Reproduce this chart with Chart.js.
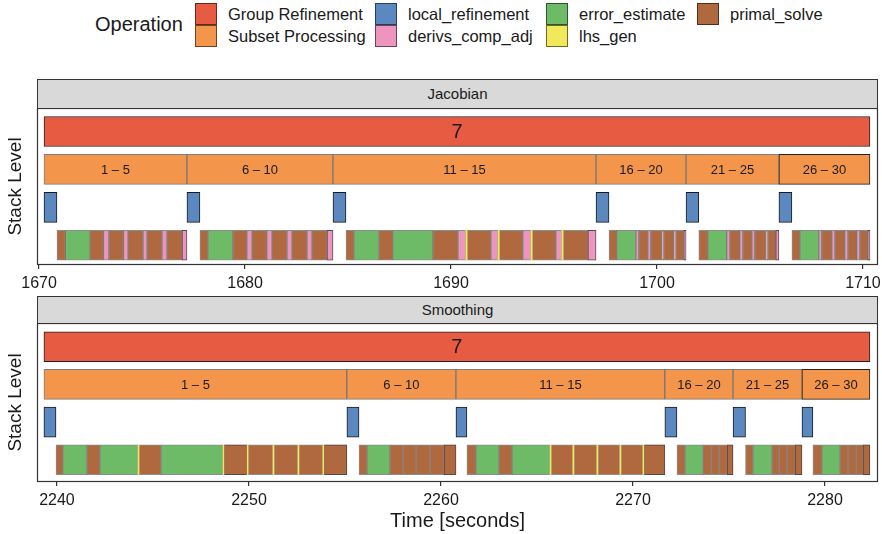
<!DOCTYPE html>
<html><head><meta charset="utf-8">
<script src="https://cdn.jsdelivr.net/npm/chart.js@4.4.1/dist/chart.umd.min.js"></script>
<style>
html,body{margin:0;padding:0;background:#fff}
body{width:882px;height:534px;position:relative;overflow:hidden;font-family:"Liberation Sans",Arial,Helvetica,sans-serif;color:#1a1a1a}
.legend-title{position:absolute;left:95px;top:12px;font-size:20px;line-height:24px}
.key{position:absolute;width:22px;height:22px;box-sizing:border-box;border:1px solid rgba(0,0,0,0.55)}
.klab{position:absolute;font-size:16.5px;line-height:22px;white-space:nowrap}
.strip{position:absolute;left:37px;width:841px;box-sizing:border-box;background:#d9d9d9;border:1px solid #333;text-align:center;font-size:15px}
.wrap{position:absolute;left:0;width:882px}
canvas{display:block}
</style></head><body>
<div id="legend"></div>
<div class="strip" style="top:79px;height:30px;line-height:28px">Jacobian</div>
<div class="wrap" style="top:108px;height:190px"><canvas id="c1" width="882" height="190"></canvas></div>
<div class="strip" style="top:296px;height:28px;line-height:26px">Smoothing</div>
<div class="wrap" style="top:323px;height:211px"><canvas id="c2" width="882" height="211"></canvas></div>
<script>
// ---------- data ----------
const P='primal_solve', E='error_estimate', D='derivs_comp_adj', L='lhs_gen';
const operations=['Group Refinement','Subset Processing','local_refinement','derivs_comp_adj','error_estimate','lhs_gen','primal_solve'];
const groupLabels=['7'];
const subsetLabels=['1 – 5','6 – 10','11 – 15','16 – 20','21 – 25','26 – 30'];

// Jacobian panel
const jacTicks=[1670,1680,1690,1700,1710];
const jacGroupStart=[1670.24];
const jacGroupEnd=[1710.34];
const jacSubsetStart=[1670.24,1677.18,1684.27,1697.04,1701.41,1705.92];
const jacSubsetEnd=[1677.18,1684.27,1697.04,1701.41,1705.92,1710.34];
const jacLocalStart=[1670.24,1677.18,1684.27,1697.04,1701.41,1705.92];
const jacLocalEnd=[1670.87,1677.81,1684.90,1697.67,1702.03,1706.55];
const jacOpStart=[
 1670.87,1671.28,1672.47,1673.13,1673.39,1674.10,1674.32,1675.05,1675.24,1675.97,1676.21,1676.94,1676.94,
 1677.81,1678.20,1679.41,1680.09,1680.34,1681.06,1681.31,1682.04,1682.28,1683.01,1683.25,1683.98,1683.98,
 1684.90,1685.29,1686.50,1687.18,1689.12,1690.34,1690.72,1690.78,1691.94,1692.28,1692.34,1693.49,1693.88,1693.94,1695.09,1695.38,1695.44,1696.65,1696.65,
 1697.67,1698.05,1698.98,1699.12,1699.56,1699.70,1700.24,1700.33,1700.82,1700.92,1701.31,1701.31,
 1702.03,1702.47,1703.39,1703.54,1704.02,1704.17,1704.61,1704.75,1705.29,1705.38,1705.77,1705.77,
 1706.55,1706.94,1707.86,1708.00,1708.49,1708.64,1709.12,1709.27,1709.70,1709.85,1710.24,1710.24];
const jacOpEnd=[
 1671.28,1672.47,1673.13,1673.39,1674.10,1674.32,1675.05,1675.24,1675.97,1676.21,1676.94,1677.18,1677.18,
 1678.20,1679.41,1680.09,1680.34,1681.06,1681.31,1682.04,1682.28,1683.01,1683.25,1683.98,1684.27,1684.27,
 1685.29,1686.50,1687.18,1689.12,1690.34,1690.72,1690.78,1691.94,1692.28,1692.34,1693.49,1693.88,1693.94,1695.09,1695.38,1695.44,1696.65,1697.04,1697.04,
 1698.05,1698.98,1699.12,1699.56,1699.70,1700.24,1700.33,1700.82,1700.92,1701.31,1701.41,1701.41,
 1702.47,1703.39,1703.54,1704.02,1704.17,1704.61,1704.75,1705.29,1705.38,1705.77,1705.92,1705.92,
 1706.94,1707.86,1708.00,1708.49,1708.64,1709.12,1709.27,1709.70,1709.85,1710.24,1710.34,1710.34];
const jacOpType=[
 P,E,P,D,P,D,P,D,P,D,P,D,D,
 P,E,P,D,P,D,P,D,P,D,P,D,D,
 P,E,P,E,P,D,L,P,D,L,P,D,L,P,D,L,P,D,D,
 P,E,D,P,D,P,D,P,D,P,D,D,
 P,E,D,P,D,P,D,P,D,P,D,D,
 P,E,D,P,D,P,D,P,D,P,D,D];

// Smoothing panel
const smoTicks=[2240,2250,2260,2270,2280];
const smoGroupStart=[2239.32];
const smoGroupEnd=[2282.34];
const smoSubsetStart=[2239.32,2255.10,2260.78,2271.66,2275.21,2278.80];
const smoSubsetEnd=[2255.10,2260.78,2271.66,2275.21,2278.80,2282.34];
const smoLocalStart=[2239.32,2255.10,2260.78,2271.66,2275.21,2278.80];
const smoLocalEnd=[2239.95,2255.73,2261.35,2272.29,2275.86,2279.37];
const smoOpStart=[
 2239.95,2240.31,2241.56,2242.24,2244.22,2244.27,2245.42,2248.65,2248.70,2248.70,2249.90,2249.95,2251.25,2251.30,2252.55,2252.60,2253.85,2253.90,2253.90,
 2255.73,2256.15,2257.34,2258.02,2258.70,2259.43,2260.16,2260.16,
 2261.35,2261.82,2263.02,2263.70,2265.68,2265.73,2266.87,2266.92,2268.12,2268.17,2269.32,2269.37,2270.52,2270.57,2270.57,
 2272.29,2272.71,2273.65,2274.06,2274.48,2274.90,2274.90,
 2275.86,2276.25,2277.24,2277.60,2278.02,2278.44,2278.44,
 2279.37,2279.84,2280.78,2281.20,2281.61,2281.98,2281.98];
const smoOpEnd=[
 2240.31,2241.56,2242.24,2244.22,2244.27,2245.42,2248.65,2248.70,2249.90,2249.90,2249.95,2251.25,2251.30,2252.55,2252.60,2253.85,2253.90,2255.10,2255.10,
 2256.15,2257.34,2258.02,2258.70,2259.43,2260.16,2260.78,2260.78,
 2261.82,2263.02,2263.70,2265.68,2265.73,2266.87,2266.92,2268.12,2268.17,2269.32,2269.37,2270.52,2270.57,2271.66,2271.66,
 2272.71,2273.65,2274.06,2274.48,2274.90,2275.21,2275.21,
 2276.25,2277.24,2277.60,2278.02,2278.44,2278.80,2278.80,
 2279.84,2280.78,2281.20,2281.61,2281.98,2282.34,2282.34];
const smoOpType=[
 P,E,P,E,L,P,E,L,P,P,L,P,L,P,L,P,L,P,P,
 P,E,P,P,P,P,P,P,
 P,E,P,E,L,P,L,P,L,P,L,P,L,P,P,
 P,E,P,P,P,P,P,
 P,E,P,P,P,P,P,
 P,E,P,P,P,P,P];

// ---------- styling ----------
const FONT='"Liberation Sans", Arial, Helvetica, sans-serif';
const COLORS={'Group Refinement':'#E65B41','Subset Processing':'#F3954B','local_refinement':'#5B88BF',
  'derivs_comp_adj':'#EE95BF','error_estimate':'#6DBA67','lhs_gen':'#F2E85B','primal_solve':'#B0693F'};

// legend (HTML)
(function(){
  const lg=document.getElementById('legend');
  const t=document.createElement('div');t.className='legend-title';t.textContent='Operation';lg.appendChild(t);
  const colX=[195,375,546,697], rowY=[3,25];
  operations.forEach((op,i)=>{
    const c=Math.floor(i/2), r=i%2;
    const k=document.createElement('div');k.className='key';
    k.style.left=colX[c]+'px';k.style.top=rowY[r]+'px';k.style.background=COLORS[op];lg.appendChild(k);
    const s=document.createElement('div');s.className='klab';s.textContent=op;
    s.style.left=(colX[c]+33)+'px';s.style.top=rowY[r]+'px';lg.appendChild(s);
  });
})();

const panelBorder={id:'panelBorder',afterDraw(chart){
  const a=chart.chartArea,ctx=chart.ctx;ctx.save();ctx.strokeStyle='#333';ctx.lineWidth=1.2;
  ctx.strokeRect(a.left+0.5,a.top+0.5,a.right-a.left-1,a.bottom-a.top-1);ctx.restore();}};
const barLabels={id:'barLabels',afterDatasetsDraw(chart,args,opts){
  const ctx=chart.ctx,xs=chart.scales.x,ys=chart.scales.y;ctx.save();
  ctx.textAlign='center';ctx.textBaseline='middle';ctx.fillStyle='#1a1a1a';
  (opts.items||[]).forEach(it=>{ctx.font=it.size+'px '+FONT;
    it.starts.forEach((s,i)=>{const x=(xs.getPixelForValue(s)+xs.getPixelForValue(it.ends[i]))/2;
      ctx.fillText(it.labels[i],x,ys.getPixelForValue(it.row)+1);});});
  ctx.restore();}};

function makeChart(id,d){
  const datasets=[];
  [L,D,E,P].forEach(op=>{
    const data=[];d.opS.forEach((s,i)=>{if(d.opT[i]===op)data.push({x:[s,d.opE[i]],y:3});});
    datasets.push({label:op,data,backgroundColor:COLORS[op],borderColor:'rgba(0,0,0,0.45)',borderWidth:op===L?0:1});
  });
  datasets.push({label:'local_refinement',data:d.locS.map((s,i)=>({x:[s,d.locE[i]],y:2})),
    backgroundColor:COLORS['local_refinement'],borderColor:'#1a1a1a',borderWidth:1});
  datasets.push({label:'Subset Processing',data:d.subS.map((s,i)=>({x:[s,d.subE[i]],y:1})),
    backgroundColor:COLORS['Subset Processing'],
    borderColor:c=>c.dataIndex===d.subS.length-1?'#222':'rgba(0,0,0,0.5)',borderWidth:1});
  datasets.push({label:'Group Refinement',data:d.grpS.map((s,i)=>({x:[s,d.grpE[i]],y:0})),
    backgroundColor:COLORS['Group Refinement'],borderColor:'#222',borderWidth:1});
  return new Chart(document.getElementById(id),{
    type:'bar',
    data:{datasets},
    options:{
      indexAxis:'y',responsive:false,animation:false,events:[],
      datasets:{bar:{grouped:false,barThickness:30,borderSkipped:false}},
      layout:{padding:{left:0,right:4,top:0,bottom:0}},
      plugins:{legend:{display:false},tooltip:{enabled:false},
        barLabels:{items:[
          {row:0,starts:d.grpS,ends:d.grpE,labels:groupLabels,size:20},
          {row:1,starts:d.subS,ends:d.subE,labels:subsetLabels,size:13}]}},
      scales:{
        x:{type:'linear',min:d.xmin,max:d.xmax,
          afterBuildTicks(s){s.ticks=d.ticks.map(v=>({value:v}));},
          ticks:{font:{size:16,family:FONT},color:'#1a1a1a',padding:5,maxRotation:0,autoSkip:false,
            callback:v=>String(v)},
          grid:{drawOnChartArea:false,drawTicks:true,tickLength:4,color:'#333',lineWidth:1.2},
          border:{display:false},
          title:{display:!!d.xtitle,text:d.xtitle||'',font:{size:20,family:FONT},color:'#1a1a1a',padding:{top:0,bottom:1}},
          afterFit(s){s.height=d.xh;s.paddingLeft=0;s.paddingRight=0;}},
        y:{type:'linear',reverse:true,min:d.ymin,max:d.ymax,offset:false,
          grid:{display:false,drawTicks:false},border:{display:false},ticks:{display:false},
          title:{display:true,text:'Stack Level',font:{size:19,family:FONT},color:'#1a1a1a',padding:{top:4,bottom:0}},
          afterFit(s){s.width=37;}}
      }
    },
    plugins:[panelBorder,barLabels]
  });
}

makeChart('c1',{ticks:jacTicks,xmin:1669.9,xmax:1710.73,ymin:-0.62,ymax:3.52,xh:33,
  grpS:jacGroupStart,grpE:jacGroupEnd,subS:jacSubsetStart,subE:jacSubsetEnd,
  locS:jacLocalStart,locE:jacLocalEnd,opS:jacOpStart,opE:jacOpEnd,opT:jacOpType});
makeChart('c2',{ticks:smoTicks,xmin:2238.96,xmax:2282.76,ymin:-0.63,ymax:3.59,xh:52,xtitle:'Time [seconds]',
  grpS:smoGroupStart,grpE:smoGroupEnd,subS:smoSubsetStart,subE:smoSubsetEnd,
  locS:smoLocalStart,locE:smoLocalEnd,opS:smoOpStart,opE:smoOpEnd,opT:smoOpType});
</script>
</body></html>
